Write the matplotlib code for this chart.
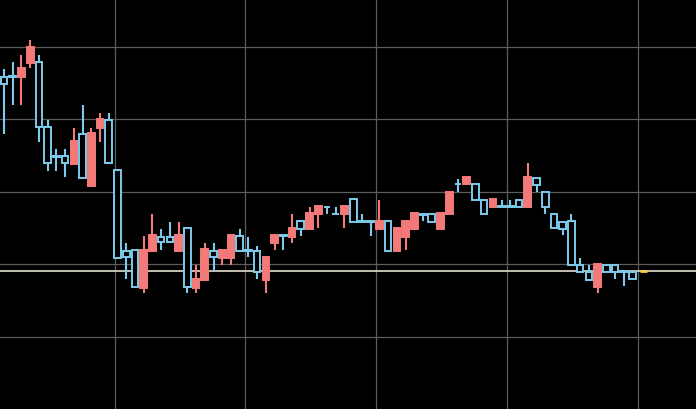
import numpy as np
import matplotlib
matplotlib.use("Agg")
import matplotlib.pyplot as plt
from matplotlib.patches import Rectangle


OUTPUT_PATH = "out.png"

# OHLC (blue hollow = bearish, red filled = bullish)
opens = [
    151.795, 151.800, 151.791, 151.892, 151.899, 151.450, 151.246, 151.248, 151.193, 151.400,
    151.041, 151.443, 151.497, 151.152, 150.595, 150.600, 150.340, 150.595, 150.692, 150.692,
    150.595, 150.750, 150.341, 150.393, 150.595, 150.543, 150.543, 150.697, 150.600, 150.595,
    150.393, 150.646, 150.703, 150.690, 150.800, 150.745, 150.846, 150.899, 150.850, 150.846,
    150.952, 150.800, 150.800, 150.743, 150.800, 150.595, 150.692, 150.745, 150.848, 150.848,
    150.745, 150.846, 151.057, 151.053, 151.053, 150.945, 150.897, 150.901, 150.901, 150.945,
    150.894, 151.099, 150.998, 150.848, 150.795, 150.798, 150.497, 150.450, 150.343, 150.497,
    150.497, 150.453, 150.446,
]
highs = [
    151.846, 151.894, 151.945, 152.048, 151.945, 151.497, 151.297, 151.297, 151.443, 151.600,
    151.443, 151.543, 151.543, 151.152, 150.646, 150.600, 150.697, 150.848, 150.745, 150.795,
    150.795, 150.750, 150.497, 150.646, 150.646, 150.600, 150.703, 150.743, 150.690, 150.630,
    150.554, 150.703, 150.703, 150.845, 150.800, 150.899, 150.903, 150.899, 150.899, 150.903,
    150.952, 150.846, 150.800, 150.945, 150.800, 150.750, 150.800, 150.853, 150.848, 150.848,
    150.853, 151.002, 151.090, 151.101, 151.053, 150.945, 150.952, 150.945, 150.945, 150.945,
    151.198, 151.099, 150.998, 150.848, 150.795, 150.845, 150.547, 150.497, 150.501, 150.497,
    150.497, 150.453, 150.446,
]
lows = [
    151.398, 151.600, 151.600, 151.853, 151.347, 151.147, 151.147, 151.106, 151.193, 151.094,
    151.041, 151.347, 151.198, 150.547, 150.400, 150.347, 150.301, 150.595, 150.600, 150.646,
    150.595, 150.301, 150.301, 150.393, 150.455, 150.497, 150.497, 150.595, 150.552, 150.400,
    150.301, 150.600, 150.600, 150.650, 150.699, 150.745, 150.750, 150.848, 150.846, 150.750,
    150.795, 150.795, 150.699, 150.743, 150.595, 150.595, 150.600, 150.745, 150.800, 150.795,
    150.745, 150.846, 151.002, 151.053, 150.945, 150.846, 150.897, 150.897, 150.897, 150.894,
    150.894, 151.002, 150.848, 150.750, 150.700, 150.497, 150.450, 150.393, 150.301, 150.450,
    150.400, 150.352, 150.398,
]
closes = [
    151.745, 151.793, 151.853, 152.002, 151.446, 151.198, 151.241, 151.198, 151.352, 151.094,
    151.405, 151.501, 151.198, 150.547, 150.554, 150.347, 150.600, 150.703, 150.653, 150.653,
    150.703, 150.347, 150.402, 150.605, 150.550, 150.600, 150.703, 150.595, 150.595, 150.450,
    150.554, 150.703, 150.699, 150.750, 150.745, 150.853, 150.903, 150.894, 150.846, 150.903,
    150.795, 150.795, 150.795, 150.800, 150.595, 150.750, 150.800, 150.853, 150.843, 150.795,
    150.853, 151.002, 151.053, 151.101, 150.945, 150.846, 150.952, 150.897, 150.897, 150.894,
    151.101, 151.048, 150.894, 150.750, 150.747, 150.497, 150.450, 150.393, 150.501, 150.450,
    150.450, 150.448, 150.398,
]

price_line = 150.452
grid_prices = [150.0, 150.5, 151.0, 151.5, 152.0]
grid_bars = [12.66, 27.66, 42.66, 57.66, 72.66]

BG = "#000000"
GRID = "#5c5c5c"
UP_COLOR = "#f47a7a"
DOWN_COLOR = "#7ccbec"
LINE_COLOR = "#e4e0cc"
MARK_COLOR = "#f5d23c"

BODY_W = 0.76


def draw_candles(ax):
    for i, (o, h, l, c) in enumerate(zip(opens, highs, lows, closes)):
        up = c >= o
        color = UP_COLOR if up else DOWN_COLOR
        top = max(o, c)
        bot = min(o, c)

        # wicks outside the body only, so hollow bodies stay empty
        if h > top:
            ax.vlines(i, top, h, color=color, linewidth=1.5, zorder=3)
        if l < bot:
            ax.vlines(i, l, bot, color=color, linewidth=1.5, zorder=3)

        body = Rectangle(
            (i - BODY_W / 2, bot),
            BODY_W,
            max(top - bot, 0.0005),
            facecolor=color if up else BG,
            edgecolor=color,
            linewidth=1.4,
            zorder=4,
        )
        ax.add_patch(body)


def main():
    fig = plt.figure(figsize=(6.96, 4.09), dpi=100)
    fig.patch.set_facecolor(BG)
    ax = fig.add_axes([0, 0, 1, 1])
    ax.set_facecolor(BG)

    for p in grid_prices:
        ax.axhline(p, color=GRID, linewidth=0.9, zorder=1)
    for x in grid_bars:
        ax.axvline(x, color=GRID, linewidth=0.9, zorder=1)

    ax.axhline(price_line, color=LINE_COLOR, linewidth=1.2, zorder=2)
    ax.hlines(price_line, 72.8, 73.6, color=MARK_COLOR, linewidth=2.0, zorder=5)

    draw_candles(ax)

    ax.set_xlim(-0.458, 79.27)
    ax.set_ylim(149.503, 152.324)
    ax.set_xticks([])
    ax.set_yticks([])
    for spine in ax.spines.values():
        spine.set_visible(False)

    fig.savefig(OUTPUT_PATH, dpi=100, facecolor=BG)
    plt.close(fig)


if __name__ == "__main__":
    main()
